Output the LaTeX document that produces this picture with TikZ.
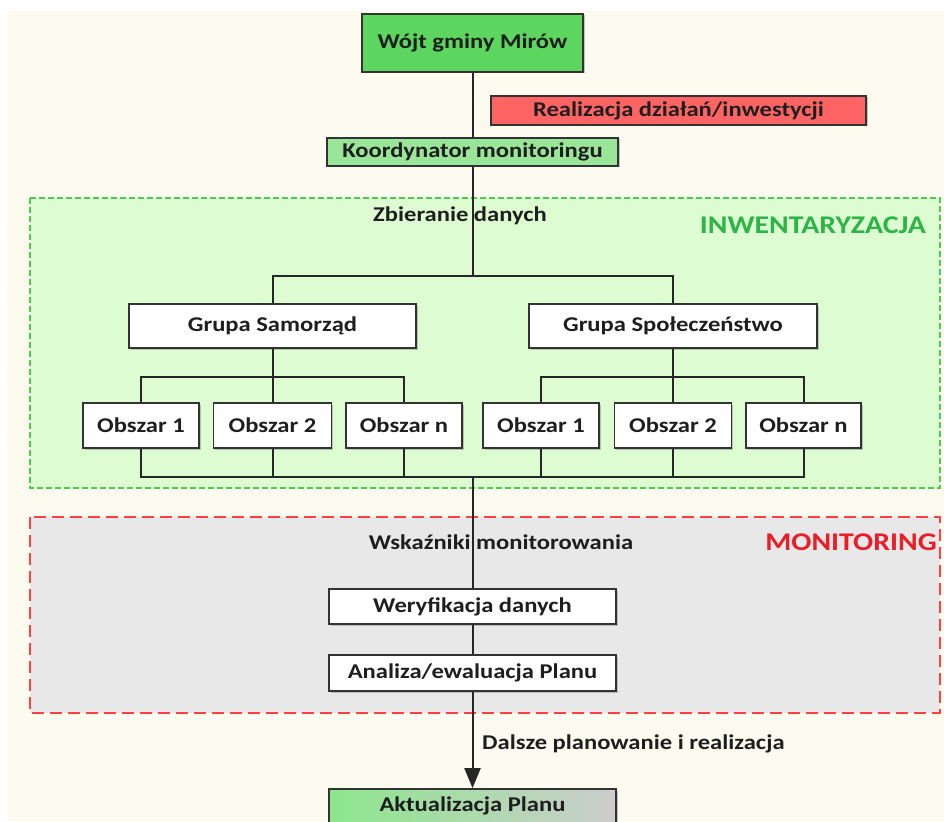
\documentclass[tikz,border=0pt]{standalone}
\usepackage{fontspec}
\setmainfont{Carlito}[FakeStretch=1.17]
\usetikzlibrary{arrows.meta,shadows}
\definecolor{cream}{RGB}{253,251,240}
\definecolor{invfill}{RGB}{222,252,210}
\definecolor{invline}{RGB}{76,204,76}
\definecolor{invtext}{RGB}{45,180,70}
\definecolor{monfill}{RGB}{232,232,232}
\definecolor{monline}{RGB}{255,64,64}
\definecolor{montext}{RGB}{232,30,40}
\definecolor{wojtfill}{RGB}{92,214,95}
\definecolor{koordfill}{RGB}{153,230,153}
\definecolor{realfill}{RGB}{255,100,100}
\definecolor{aktleft}{RGB}{140,230,140}
\definecolor{aktright}{RGB}{205,205,205}
\definecolor{ink}{RGB}{30,30,30}
\tikzset{
  box/.style={draw=black!80, line width=1.7pt, fill=white, inner sep=0pt,
    text=ink, font=\fontsize{21}{25}\selectfont\bfseries,
    drop shadow={shadow xshift=1.5pt,shadow yshift=-1.5pt,fill=black!45}},
  conn/.style={draw=black!85, line width=2pt},
  lbl/.style={text=ink, font=\fontsize{21}{25}\selectfont\bfseries, inner sep=0pt},
  biglbl/.style={font=\fontsize{25.5}{30}\selectfont\bfseries, inner sep=0pt}
}
\begin{document}
\begin{tikzpicture}[x=1pt,y=-1pt]
\useasboundingbox (0,0) rectangle (944,821);
\clip (0,0) rectangle (944,821);
\fill[white] (0,0) rectangle (944,821);
\fill[cream] (7,11) rectangle (944,821);
% regions
\draw[invline, fill=invfill, line width=1.8pt, dash pattern=on 6pt off 3pt] (30,198) rectangle (940,488);
\draw[monline, fill=monfill, line width=1.8pt, dash pattern=on 12pt off 6pt] (30,517) rectangle (940,713);
\node[biglbl, text=invtext] (inv) at (813,225) {INWENTARYZACJA};
\node[biglbl, text=montext] (mon) at (851,542) {MONITORING};
% top nodes
\node[box, fill=wojtfill, minimum width=221pt, minimum height=58pt] (wojt) at (472.5,43) {Wójt gminy Mirów};
\node[box, fill=realfill, minimum width=375pt, minimum height=29pt] (real) at (678.5,110.5) {Realizacja działań/inwestycji};
\node[box, fill=koordfill, minimum width=291pt, minimum height=28pt] (koord) at (472.5,152) {Koordynator monitoringu};
% groups
\node[box, minimum width=287pt, minimum height=44pt] (gs) at (272.5,326) {Grupa Samorząd};
\node[box, minimum width=288pt, minimum height=44pt] (gsp) at (673,326) {Grupa Społeczeństwo};
% areas
\node[box, minimum width=116pt, minimum height=45pt] (l1) at (141,425.5) {Obszar 1};
\node[box, minimum width=118pt, minimum height=45pt] (l2) at (272.5,425.5) {Obszar 2};
\node[box, minimum width=116pt, minimum height=45pt] (ln) at (404,425.5) {Obszar n};
\node[box, minimum width=116pt, minimum height=45pt] (r1) at (541,425.5) {Obszar 1};
\node[box, minimum width=117pt, minimum height=45pt] (r2) at (673,425.5) {Obszar 2};
\node[box, minimum width=115pt, minimum height=45pt] (rn) at (803.5,425.5) {Obszar n};
% monitoring
\node[box, minimum width=287pt, minimum height=35pt] (wer) at (472.5,606.5) {Weryfikacja danych};
\node[box, minimum width=287pt, minimum height=36pt] (ana) at (472.5,673) {Analiza/ewaluacja Planu};
\node[box, left color=aktleft, right color=aktright, minimum width=287pt, minimum height=42pt] (akt) at (472.5,810) {};
\node[lbl] (akttxt) at (472.5,806) {Aktualizacja Planu};
% labels
\node[lbl] (zb) at (460,216) {Zbieranie danych};
\node[lbl] (wsk) at (501,542) {Wskaźniki monitorowania};
\node[lbl, anchor=west] (dal) at (482,744) {Dalsze planowanie i realizacja};
% junctions
\coordinate (j1) at (472.5,276);
\coordinate (j2) at (272.5,377);
\coordinate (j3) at (673,377);
\coordinate (b) at (472.5,477);
% connectors
\draw[conn] (wojt.south) -- (koord.north);
\draw[conn] (koord.south) -- (j1);
\draw[conn] (gs.north) |- (j1) -| (gsp.north);
\draw[conn] (gs.south) -- (l2.north);
\draw[conn] (l1.north) |- (j2) -| (ln.north);
\draw[conn] (gsp.south) -- (r2.north);
\draw[conn] (r1.north) |- (j3) -| (rn.north);
\draw[conn] (l1.south) |- (b) -| (rn.south);
\draw[conn] (l2.south) -- (l2.south |- b);
\draw[conn] (ln.south) -- (ln.south |- b);
\draw[conn] (r1.south) -- (r1.south |- b);
\draw[conn] (r2.south) -- (r2.south |- b);
\draw[conn] (b) -- (wer.north);
\draw[conn] (wer.south) -- (ana.north);
\draw[conn, -{Triangle[width=16pt,length=20pt]}] (ana.south) -- (akt.north);
\end{tikzpicture}
\end{document}
